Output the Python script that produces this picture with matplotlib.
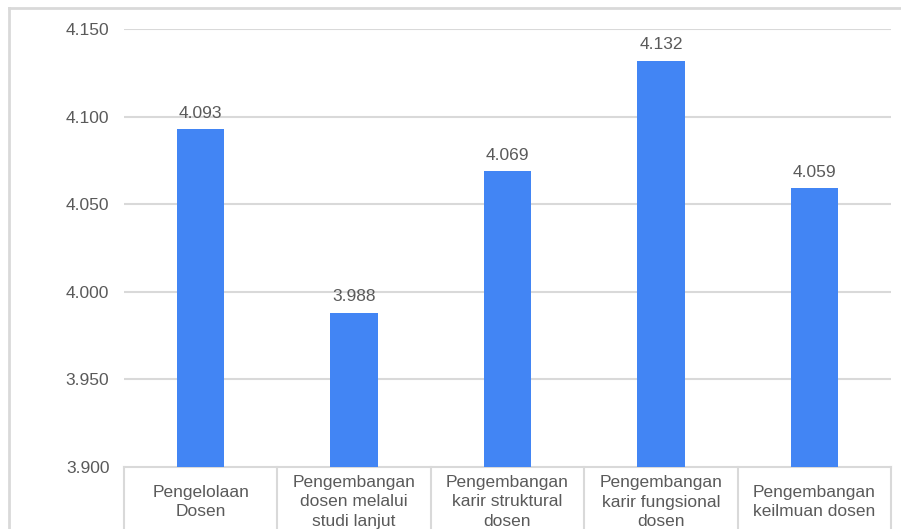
import matplotlib
matplotlib.use("Agg")
import matplotlib.pyplot as plt
import matplotlib.transforms as mtransforms
from matplotlib.lines import Line2D

categories = ["Pengelolaan\nDosen", "Pengembangan\ndosen melalui\nstudi lanjut",
              "Pengembangan\nkarir struktural\ndosen", "Pengembangan\nkarir fungsional\ndosen",
              "Pengembangan\nkeilmuan dosen"]
values = [4.093, 3.988, 4.069, 4.132, 4.059]
yticks = [3.900, 3.950, 4.000, 4.050, 4.100, 4.150]

plt.rcParams['font.family'] = ['Liberation Sans', 'DejaVu Sans']
TXT = '#5a5a5a'
GRID = '#d9d9d9'
BAR = '#4285F4'

W, H = 901, 529
fig = plt.figure(figsize=(W / 100, H / 100), dpi=100)
ax = fig.add_axes([124 / W, (H - 467) / H, (891 - 124) / W, (467 - 29) / H])

x = list(range(len(categories)))
ax.bar(x, values, width=0.31, color=BAR, zorder=3, bottom=0)
ax.set_ylim(3.9, 4.15)
ax.set_xlim(-0.5, len(categories) - 0.5)
ax.set_yticks(yticks)
ax.set_yticklabels([f"{v:.3f}" for v in yticks], fontsize=12.5, color=TXT)
ax.tick_params(axis='y', length=0, pad=10.5)
ax.set_xticks([])
for s in ax.spines.values():
    s.set_visible(False)
for v in yticks[1:]:
    ax.axhline(v, color=GRID, lw=1.5, zorder=1)

for xi, v in zip(x, values):
    ax.annotate(f"{v:.3f}", (xi, v), xytext=(0, 6), textcoords='offset points',
                ha='center', va='bottom', fontsize=12.5, color=TXT)

trans = mtransforms.blended_transform_factory(ax.transData, ax.transAxes)
ax.plot([-0.5, len(categories) - 0.5], [0, 0], transform=trans, color=GRID, lw=1.5, clip_on=False, zorder=2)
for b in [i - 0.5 for i in range(len(categories) + 1)]:
    ax.plot([b, b], [0, -0.3], transform=trans, color=GRID, lw=1.5, clip_on=False)
for xi, lab in zip(x, categories):
    ax.text(xi, -35 / 438, lab, transform=trans, ha='center', va='center',
            fontsize=12.5, color=TXT, linespacing=1.4)

# outer border
fig.add_artist(Line2D([9 / W, 9 / W], [0, (H - 8) / H], color=GRID, lw=2, transform=fig.transFigure))
fig.add_artist(Line2D([9 / W, 1], [(H - 8) / H, (H - 8) / H], color=GRID, lw=2, transform=fig.transFigure))

fig.savefig("out.png", dpi=100)
